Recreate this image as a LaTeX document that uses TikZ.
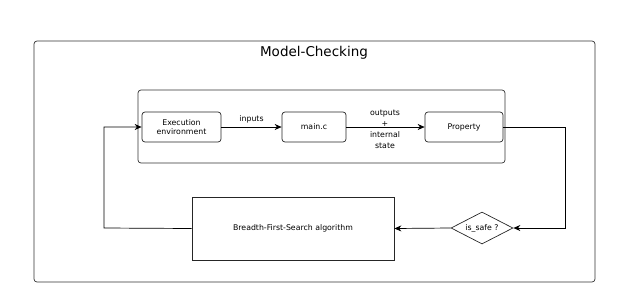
\documentclass[tikz,border=0pt]{standalone}
\usepackage{fontspec}
\setmainfont{DejaVu Sans}
\usetikzlibrary{shapes.geometric,arrows.meta}
\begin{document}
\begin{tikzpicture}[x=1pt,y=-1pt,
  line width=0.7pt,
  every node/.style={inner sep=0pt},
  frame/.style={draw=black!80,rounded corners=3pt},
  blockbox/.style={draw=black!85,rounded corners=3pt,font=\fontsize{7.8}{9.5}\selectfont,align=center},
  plainbox/.style={draw=black!85,font=\fontsize{7.8}{9.5}\selectfont},
  test/.style={draw=black!85,diamond,aspect=1.95,inner sep=0.5pt,font=\fontsize{7.8}{9.5}\selectfont},
  lbl/.style={font=\fontsize{7.8}{11}\selectfont,align=center},
  flow/.style={-{Stealth[length=7pt,width=6pt]}}]
\useasboundingbox (0,0) rectangle (634,306);
% outer frame and title
\draw[frame] (34,41) rectangle (595,282);
\node[font=\fontsize{13.5}{15}\selectfont] (title) at (314,53) {Model-Checking};
% program under check
\draw[frame] (138,90) rectangle (505,163);
\node[blockbox,minimum width=79pt,minimum height=30pt] (env) at (181.5,127) {Execution\\environment};
\node[blockbox,minimum width=64pt,minimum height=30pt] (main) at (314,127) {main.c};
\node[blockbox,minimum width=78pt,minimum height=30pt] (prop) at (464,127) {Property};
% exploration loop
\node[plainbox,minimum width=202pt,minimum height=63pt] (bfs) at (293,228.5) {Breadth-First-Search algorithm};
\node[test,minimum width=62pt,minimum height=32pt] (safe) at (482,228) {is\_safe ?};
\coordinate (r) at (565,127);
\coordinate (l) at (104,228);
% connectors
\draw[flow] (env.east) -- node[lbl,above=4pt] (inlbl) {inputs} (main.west);
\draw[flow] (main.east) -- (prop.west);
\node[lbl] (outlbl) at (385,129) {outputs\\+\\internal\\state};
\draw[flow] (prop.east) -- (r) |- (safe.east);
\draw[flow] (safe.west) -- (bfs.east);
\draw[flow] (bfs.west) -- (l) |- (env.west);
\end{tikzpicture}
\end{document}
